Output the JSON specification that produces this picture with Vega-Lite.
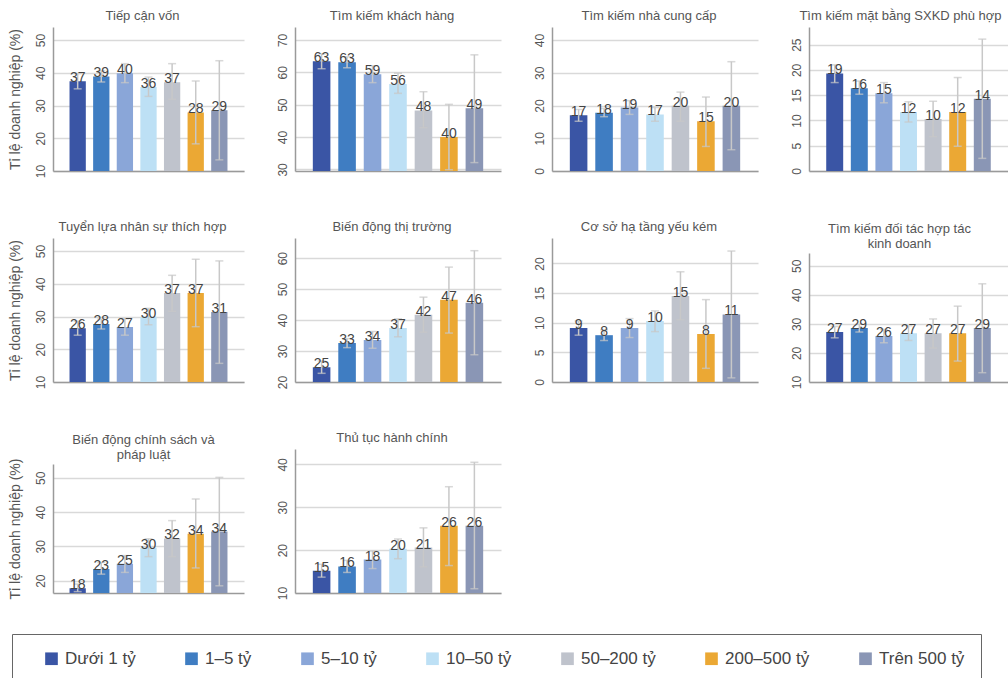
{
  "$schema": "https://vega.github.io/schema/vega-lite/v6.json",
  "background": "white",
  "padding": {"left": 7, "top": 10, "right": 0, "bottom": 0},
  "config": {
    "font": "Liberation Sans",
    "view": {"stroke": null},
    "title": {"fontSize": 13, "fontWeight": "normal", "color": "#555555", "offset": 4, "lineHeight": 15, "frame": "group", "anchor": "middle", "dx": -6},
    "axis": {"labelColor": "#555555", "labelFontSize": 12, "gridColor": "#d9d9d9", "gridWidth": 1.5, "domainColor": "#9a9a9a", "domainWidth": 1.5, "ticks": false, "labelOverlap": false},
    "axisY": {"labelAngle": -90, "labelPadding": 6, "titleFontSize": 14, "titleColor": "#555555", "titleFontWeight": "normal", "titlePadding": 12, "labelOverlap": false},
    "axisQuantitative": {"labelOverlap": false},
    "axisX": {"labels": false, "title": null, "grid": false}
  },
  "datasets": {
    "d": [
      {"p":1,"g":"Dưới 1 tỷ","v":37.4,"lo":35.1,"hi":39.8},
      {"p":1,"g":"1–5 tỷ","v":38.9,"lo":37.2,"hi":40.6},
      {"p":1,"g":"5–10 tỷ","v":39.9,"lo":37.0,"hi":42.8},
      {"p":1,"g":"10–50 tỷ","v":35.7,"lo":32.8,"hi":38.7},
      {"p":1,"g":"50–200 tỷ","v":37.1,"lo":31.9,"hi":42.8},
      {"p":1,"g":"200–500 tỷ","v":27.9,"lo":18.3,"hi":37.5},
      {"p":1,"g":"Trên 500 tỷ","v":28.6,"lo":13.4,"hi":43.7},
      {"p":2,"g":"Dưới 1 tỷ","v":63.4,"lo":61.1,"hi":65.7},
      {"p":2,"g":"1–5 tỷ","v":63.1,"lo":61.4,"hi":64.8},
      {"p":2,"g":"5–10 tỷ","v":59.4,"lo":56.8,"hi":62.0},
      {"p":2,"g":"10–50 tỷ","v":56.4,"lo":53.5,"hi":59.7},
      {"p":2,"g":"50–200 tỷ","v":48.2,"lo":42.9,"hi":54.0},
      {"p":2,"g":"200–500 tỷ","v":40.0,"lo":29.9,"hi":50.1},
      {"p":2,"g":"Trên 500 tỷ","v":48.9,"lo":32.1,"hi":65.4},
      {"p":3,"g":"Dưới 1 tỷ","v":17.0,"lo":15.2,"hi":18.8},
      {"p":3,"g":"1–5 tỷ","v":17.8,"lo":16.6,"hi":19.1},
      {"p":3,"g":"5–10 tỷ","v":19.4,"lo":17.3,"hi":21.5},
      {"p":3,"g":"10–50 tỷ","v":17.3,"lo":15.2,"hi":19.4},
      {"p":3,"g":"50–200 tỷ","v":19.9,"lo":15.2,"hi":24.1},
      {"p":3,"g":"200–500 tỷ","v":15.2,"lo":7.5,"hi":22.6},
      {"p":3,"g":"Trên 500 tỷ","v":19.9,"lo":6.5,"hi":33.4},
      {"p":4,"g":"Dưới 1 tỷ","v":19.3,"lo":17.5,"hi":21.0},
      {"p":4,"g":"1–5 tỷ","v":16.4,"lo":15.2,"hi":17.8},
      {"p":4,"g":"5–10 tỷ","v":15.4,"lo":13.5,"hi":17.5},
      {"p":4,"g":"10–50 tỷ","v":11.7,"lo":9.7,"hi":13.7},
      {"p":4,"g":"50–200 tỷ","v":10.3,"lo":6.8,"hi":13.8},
      {"p":4,"g":"200–500 tỷ","v":11.7,"lo":4.9,"hi":18.5},
      {"p":4,"g":"Trên 500 tỷ","v":14.3,"lo":2.5,"hi":26.1},
      {"p":5,"g":"Dưới 1 tỷ","v":26.4,"lo":24.3,"hi":28.6},
      {"p":5,"g":"1–5 tỷ","v":27.7,"lo":26.2,"hi":29.2},
      {"p":5,"g":"5–10 tỷ","v":26.8,"lo":24.3,"hi":29.3},
      {"p":5,"g":"10–50 tỷ","v":29.9,"lo":27.5,"hi":32.5},
      {"p":5,"g":"50–200 tỷ","v":37.2,"lo":31.6,"hi":42.6},
      {"p":5,"g":"200–500 tỷ","v":37.2,"lo":26.9,"hi":47.5},
      {"p":5,"g":"Trên 500 tỷ","v":31.4,"lo":15.7,"hi":47.0},
      {"p":6,"g":"Dưới 1 tỷ","v":24.8,"lo":22.8,"hi":26.8},
      {"p":6,"g":"1–5 tỷ","v":32.6,"lo":31.1,"hi":34.0},
      {"p":6,"g":"5–10 tỷ","v":33.6,"lo":30.9,"hi":36.3},
      {"p":6,"g":"10–50 tỷ","v":37.4,"lo":34.6,"hi":40.4},
      {"p":6,"g":"50–200 tỷ","v":41.7,"lo":36.1,"hi":47.4},
      {"p":6,"g":"200–500 tỷ","v":46.6,"lo":35.8,"hi":57.1},
      {"p":6,"g":"Trên 500 tỷ","v":45.6,"lo":28.8,"hi":62.4},
      {"p":7,"g":"Dưới 1 tỷ","v":9.1,"lo":7.9,"hi":10.3},
      {"p":7,"g":"1–5 tỷ","v":7.9,"lo":7.0,"hi":8.8},
      {"p":7,"g":"5–10 tỷ","v":9.1,"lo":7.5,"hi":10.7},
      {"p":7,"g":"10–50 tỷ","v":10.3,"lo":8.5,"hi":12.0},
      {"p":7,"g":"50–200 tỷ","v":14.5,"lo":10.5,"hi":18.6},
      {"p":7,"g":"200–500 tỷ","v":8.1,"lo":2.3,"hi":13.9},
      {"p":7,"g":"Trên 500 tỷ","v":11.4,"lo":0.7,"hi":22.1},
      {"p":8,"g":"Dưới 1 tỷ","v":27.2,"lo":25.2,"hi":29.1},
      {"p":8,"g":"1–5 tỷ","v":28.6,"lo":27.2,"hi":29.9},
      {"p":8,"g":"5–10 tỷ","v":25.8,"lo":23.5,"hi":28.1},
      {"p":8,"g":"10–50 tỷ","v":26.8,"lo":24.3,"hi":29.4},
      {"p":8,"g":"50–200 tỷ","v":26.8,"lo":21.7,"hi":31.7},
      {"p":8,"g":"200–500 tỷ","v":26.8,"lo":17.2,"hi":36.1},
      {"p":8,"g":"Trên 500 tỷ","v":28.6,"lo":13.2,"hi":43.8},
      {"p":9,"g":"Dưới 1 tỷ","v":17.8,"lo":16.8,"hi":19.0},
      {"p":9,"g":"1–5 tỷ","v":23.4,"lo":21.9,"hi":25.3},
      {"p":9,"g":"5–10 tỷ","v":24.9,"lo":22.4,"hi":27.3},
      {"p":9,"g":"10–50 tỷ","v":29.6,"lo":27.0,"hi":32.2},
      {"p":9,"g":"50–200 tỷ","v":32.3,"lo":27.0,"hi":37.5},
      {"p":9,"g":"200–500 tỷ","v":33.7,"lo":23.7,"hi":43.8},
      {"p":9,"g":"Trên 500 tỷ","v":34.3,"lo":18.5,"hi":50.1},
      {"p":10,"g":"Dưới 1 tỷ","v":15.2,"lo":13.7,"hi":16.7},
      {"p":10,"g":"1–5 tỷ","v":16.2,"lo":14.8,"hi":17.6},
      {"p":10,"g":"5–10 tỷ","v":17.8,"lo":15.7,"hi":19.8},
      {"p":10,"g":"10–50 tỷ","v":20.3,"lo":18.0,"hi":22.6},
      {"p":10,"g":"50–200 tỷ","v":20.6,"lo":16.1,"hi":25.2},
      {"p":10,"g":"200–500 tỷ","v":25.7,"lo":16.4,"hi":34.8},
      {"p":10,"g":"Trên 500 tỷ","v":25.7,"lo":11.0,"hi":40.5}
    ]
  },
  "columns": 4,
  "align": "each",
  "spacing": {"row": 43, "column": 32},
  "resolve": {"scale": {"y": "independent", "x": "independent"}},
  "concat": [
    {
      "width": 191, "height": 144, "title": "Tiếp cận vốn",
      "data": {"name": "d"}, "transform": [{"filter": "datum.p == 1"}],
      "encoding": {"x": {"field": "g", "type": "nominal", "sort": ["Dưới 1 tỷ","1–5 tỷ","5–10 tỷ","10–50 tỷ","50–200 tỷ","200–500 tỷ","Trên 500 tỷ"], "scale": {"paddingInner": 0.31, "paddingOuter": 0.7}, "axis": {"labels": false, "ticks": false, "title": null}}},
      "layer": [
        {"mark": {"type": "bar", "clip": true}, "encoding": {
          "y": {"field": "v", "type": "quantitative", "title": "Tỉ lệ doanh nghiệp (%)", "scale": {"domain": [10, 54], "nice": false, "zero": false}, "axis": {"values": [10,20,30,40,50], "labelOverlap": false}},
          "color": {"field": "g", "type": "nominal", "scale": {"domain": ["Dưới 1 tỷ","1–5 tỷ","5–10 tỷ","10–50 tỷ","50–200 tỷ","200–500 tỷ","Trên 500 tỷ"], "range": ["#3a55a5","#3f7dc2","#8aa6d8","#bde0f5","#bfc3cc","#eba834","#8a96b5"]},
            "legend": {"orient": "none", "legendX": -41, "legendY": 607, "direction": "horizontal", "title": null, "symbolType": "square", "symbolSize": 160, "symbolStrokeWidth": 0, "labelFontSize": 17, "labelColor": "#444444", "labelOffset": 5, "columnPadding": 32, "padding": 16, "symbolOffset": 15, "strokeColor": "#666666"}}}},
        {"mark": {"type": "rule", "color": "#c8c8c8", "strokeWidth": 1.5}, "encoding": {"y": {"field": "lo", "type": "quantitative", "title": "Tỉ lệ doanh nghiệp (%)", "axis": {"values": [10,20,30,40,50], "labelOverlap": false}}, "y2": {"field": "hi"}}},
        {"mark": {"type": "tick", "color": "#c8c8c8", "size": 8, "thickness": 1.5}, "encoding": {"y": {"field": "lo", "type": "quantitative", "title": "Tỉ lệ doanh nghiệp (%)", "axis": {"values": [10,20,30,40,50], "labelOverlap": false}}}},
        {"mark": {"type": "tick", "color": "#c8c8c8", "size": 8, "thickness": 1.5}, "encoding": {"y": {"field": "hi", "type": "quantitative", "title": "Tỉ lệ doanh nghiệp (%)", "axis": {"values": [10,20,30,40,50], "labelOverlap": false}}}},
        {"mark": {"type": "text", "baseline": "alphabetic", "dy": 1, "fontSize": 14, "color": "#444444"}, "encoding": {"y": {"field": "v", "type": "quantitative", "title": "Tỉ lệ doanh nghiệp (%)", "axis": {"values": [10,20,30,40,50], "labelOverlap": false}}, "text": {"field": "v", "type": "quantitative", "format": ".0f"}}}
      ]
    },
    {
      "width": 206, "height": 144, "title": "Tìm kiếm khách hàng",
      "data": {"name": "d"}, "transform": [{"filter": "datum.p == 2"}],
      "encoding": {"x": {"field": "g", "type": "nominal", "sort": ["Dưới 1 tỷ","1–5 tỷ","5–10 tỷ","10–50 tỷ","50–200 tỷ","200–500 tỷ","Trên 500 tỷ"], "scale": {"paddingInner": 0.31, "paddingOuter": 0.7}, "axis": {"labels": false, "ticks": false, "title": null}}},
      "layer": [
        {"mark": {"type": "bar", "clip": true}, "encoding": {
          "y": {"field": "v", "type": "quantitative", "title": null, "scale": {"domain": [29.5, 74], "nice": false, "zero": false}, "axis": {"values": [30,40,50,60,70], "labelOverlap": false}},
          "color": {"field": "g", "type": "nominal"}}},
        {"mark": {"type": "rule", "color": "#c8c8c8", "strokeWidth": 1.5}, "encoding": {"y": {"field": "lo", "type": "quantitative", "title": null, "axis": {"values": [30,40,50,60,70], "labelOverlap": false}}, "y2": {"field": "hi"}}},
        {"mark": {"type": "tick", "color": "#c8c8c8", "size": 8, "thickness": 1.5}, "encoding": {"y": {"field": "lo", "type": "quantitative", "title": null, "axis": {"values": [30,40,50,60,70], "labelOverlap": false}}}},
        {"mark": {"type": "tick", "color": "#c8c8c8", "size": 8, "thickness": 1.5}, "encoding": {"y": {"field": "hi", "type": "quantitative", "title": null, "axis": {"values": [30,40,50,60,70], "labelOverlap": false}}}},
        {"mark": {"type": "text", "baseline": "alphabetic", "dy": 1, "fontSize": 14, "color": "#444444"}, "encoding": {"y": {"field": "v", "type": "quantitative", "title": null, "axis": {"values": [30,40,50,60,70], "labelOverlap": false}}, "text": {"field": "v", "type": "quantitative", "format": ".0f"}}}
      ]
    },
    {
      "width": 206, "height": 144, "title": "Tìm kiếm nhà cung cấp",
      "data": {"name": "d"}, "transform": [{"filter": "datum.p == 3"}],
      "encoding": {"x": {"field": "g", "type": "nominal", "sort": ["Dưới 1 tỷ","1–5 tỷ","5–10 tỷ","10–50 tỷ","50–200 tỷ","200–500 tỷ","Trên 500 tỷ"], "scale": {"paddingInner": 0.31, "paddingOuter": 0.7}, "axis": {"labels": false, "ticks": false, "title": null}}},
      "layer": [
        {"mark": {"type": "bar", "clip": true}, "encoding": {
          "y": {"field": "v", "type": "quantitative", "title": null, "scale": {"domain": [0, 44], "nice": false, "zero": false}, "axis": {"values": [0,10,20,30,40], "labelOverlap": false}},
          "color": {"field": "g", "type": "nominal"}}},
        {"mark": {"type": "rule", "color": "#c8c8c8", "strokeWidth": 1.5}, "encoding": {"y": {"field": "lo", "type": "quantitative", "title": null, "axis": {"values": [0,10,20,30,40], "labelOverlap": false}}, "y2": {"field": "hi"}}},
        {"mark": {"type": "tick", "color": "#c8c8c8", "size": 8, "thickness": 1.5}, "encoding": {"y": {"field": "lo", "type": "quantitative", "title": null, "axis": {"values": [0,10,20,30,40], "labelOverlap": false}}}},
        {"mark": {"type": "tick", "color": "#c8c8c8", "size": 8, "thickness": 1.5}, "encoding": {"y": {"field": "hi", "type": "quantitative", "title": null, "axis": {"values": [0,10,20,30,40], "labelOverlap": false}}}},
        {"mark": {"type": "text", "baseline": "alphabetic", "dy": 1, "fontSize": 14, "color": "#444444"}, "encoding": {"y": {"field": "v", "type": "quantitative", "title": null, "axis": {"values": [0,10,20,30,40], "labelOverlap": false}}, "text": {"field": "v", "type": "quantitative", "format": ".0f"}}}
      ]
    },
    {
      "width": 199, "height": 144, "title": {"text": "Tìm kiếm mặt bằng SXKD phù hợp", "dx": -8},
      "data": {"name": "d"}, "transform": [{"filter": "datum.p == 4"}],
      "encoding": {"x": {"field": "g", "type": "nominal", "sort": ["Dưới 1 tỷ","1–5 tỷ","5–10 tỷ","10–50 tỷ","50–200 tỷ","200–500 tỷ","Trên 500 tỷ"], "scale": {"paddingInner": 0.31, "paddingOuter": 0.7}, "axis": {"labels": false, "ticks": false, "title": null}}},
      "layer": [
        {"mark": {"type": "bar", "clip": true}, "encoding": {
          "y": {"field": "v", "type": "quantitative", "title": null, "scale": {"domain": [0, 28.5], "nice": false, "zero": false}, "axis": {"values": [0,5,10,15,20,25], "labelOverlap": false}},
          "color": {"field": "g", "type": "nominal"}}},
        {"mark": {"type": "rule", "color": "#c8c8c8", "strokeWidth": 1.5}, "encoding": {"y": {"field": "lo", "type": "quantitative", "title": null, "axis": {"values": [0,5,10,15,20,25], "labelOverlap": false}}, "y2": {"field": "hi"}}},
        {"mark": {"type": "tick", "color": "#c8c8c8", "size": 8, "thickness": 1.5}, "encoding": {"y": {"field": "lo", "type": "quantitative", "title": null, "axis": {"values": [0,5,10,15,20,25], "labelOverlap": false}}}},
        {"mark": {"type": "tick", "color": "#c8c8c8", "size": 8, "thickness": 1.5}, "encoding": {"y": {"field": "hi", "type": "quantitative", "title": null, "axis": {"values": [0,5,10,15,20,25], "labelOverlap": false}}}},
        {"mark": {"type": "text", "baseline": "alphabetic", "dy": 1, "fontSize": 14, "color": "#444444"}, "encoding": {"y": {"field": "v", "type": "quantitative", "title": null, "axis": {"values": [0,5,10,15,20,25], "labelOverlap": false}}, "text": {"field": "v", "type": "quantitative", "format": ".0f"}}}
      ]
    },
    {
      "width": 191, "height": 144, "title": "Tuyển lựa nhân sự thích hợp",
      "data": {"name": "d"}, "transform": [{"filter": "datum.p == 5"}],
      "encoding": {"x": {"field": "g", "type": "nominal", "sort": ["Dưới 1 tỷ","1–5 tỷ","5–10 tỷ","10–50 tỷ","50–200 tỷ","200–500 tỷ","Trên 500 tỷ"], "scale": {"paddingInner": 0.31, "paddingOuter": 0.7}, "axis": {"labels": false, "ticks": false, "title": null}}},
      "layer": [
        {"mark": {"type": "bar", "clip": true}, "encoding": {
          "y": {"field": "v", "type": "quantitative", "title": "Tỉ lệ doanh nghiệp (%)", "scale": {"domain": [10, 54], "nice": false, "zero": false}, "axis": {"values": [10,20,30,40,50], "labelOverlap": false}},
          "color": {"field": "g", "type": "nominal"}}},
        {"mark": {"type": "rule", "color": "#c8c8c8", "strokeWidth": 1.5}, "encoding": {"y": {"field": "lo", "type": "quantitative", "title": "Tỉ lệ doanh nghiệp (%)", "axis": {"values": [10,20,30,40,50], "labelOverlap": false}}, "y2": {"field": "hi"}}},
        {"mark": {"type": "tick", "color": "#c8c8c8", "size": 8, "thickness": 1.5}, "encoding": {"y": {"field": "lo", "type": "quantitative", "title": "Tỉ lệ doanh nghiệp (%)", "axis": {"values": [10,20,30,40,50], "labelOverlap": false}}}},
        {"mark": {"type": "tick", "color": "#c8c8c8", "size": 8, "thickness": 1.5}, "encoding": {"y": {"field": "hi", "type": "quantitative", "title": "Tỉ lệ doanh nghiệp (%)", "axis": {"values": [10,20,30,40,50], "labelOverlap": false}}}},
        {"mark": {"type": "text", "baseline": "alphabetic", "dy": 1, "fontSize": 14, "color": "#444444"}, "encoding": {"y": {"field": "v", "type": "quantitative", "title": "Tỉ lệ doanh nghiệp (%)", "axis": {"values": [10,20,30,40,50], "labelOverlap": false}}, "text": {"field": "v", "type": "quantitative", "format": ".0f"}}}
      ]
    },
    {
      "width": 206, "height": 144, "title": "Biến động thị trường",
      "data": {"name": "d"}, "transform": [{"filter": "datum.p == 6"}],
      "encoding": {"x": {"field": "g", "type": "nominal", "sort": ["Dưới 1 tỷ","1–5 tỷ","5–10 tỷ","10–50 tỷ","50–200 tỷ","200–500 tỷ","Trên 500 tỷ"], "scale": {"paddingInner": 0.31, "paddingOuter": 0.7}, "axis": {"labels": false, "ticks": false, "title": null}}},
      "layer": [
        {"mark": {"type": "bar", "clip": true}, "encoding": {
          "y": {"field": "v", "type": "quantitative", "title": null, "scale": {"domain": [20, 66.5], "nice": false, "zero": false}, "axis": {"values": [20,30,40,50,60], "labelOverlap": false}},
          "color": {"field": "g", "type": "nominal"}}},
        {"mark": {"type": "rule", "color": "#c8c8c8", "strokeWidth": 1.5}, "encoding": {"y": {"field": "lo", "type": "quantitative", "title": null, "axis": {"values": [20,30,40,50,60], "labelOverlap": false}}, "y2": {"field": "hi"}}},
        {"mark": {"type": "tick", "color": "#c8c8c8", "size": 8, "thickness": 1.5}, "encoding": {"y": {"field": "lo", "type": "quantitative", "title": null, "axis": {"values": [20,30,40,50,60], "labelOverlap": false}}}},
        {"mark": {"type": "tick", "color": "#c8c8c8", "size": 8, "thickness": 1.5}, "encoding": {"y": {"field": "hi", "type": "quantitative", "title": null, "axis": {"values": [20,30,40,50,60], "labelOverlap": false}}}},
        {"mark": {"type": "text", "baseline": "alphabetic", "dy": 1, "fontSize": 14, "color": "#444444"}, "encoding": {"y": {"field": "v", "type": "quantitative", "title": null, "axis": {"values": [20,30,40,50,60], "labelOverlap": false}}, "text": {"field": "v", "type": "quantitative", "format": ".0f"}}}
      ]
    },
    {
      "width": 206, "height": 144, "title": "Cơ sở hạ tầng yếu kém",
      "data": {"name": "d"}, "transform": [{"filter": "datum.p == 7"}],
      "encoding": {"x": {"field": "g", "type": "nominal", "sort": ["Dưới 1 tỷ","1–5 tỷ","5–10 tỷ","10–50 tỷ","50–200 tỷ","200–500 tỷ","Trên 500 tỷ"], "scale": {"paddingInner": 0.31, "paddingOuter": 0.7}, "axis": {"labels": false, "ticks": false, "title": null}}},
      "layer": [
        {"mark": {"type": "bar", "clip": true}, "encoding": {
          "y": {"field": "v", "type": "quantitative", "title": null, "scale": {"domain": [0, 24.3], "nice": false, "zero": false}, "axis": {"values": [0,5,10,15,20], "labelOverlap": false}},
          "color": {"field": "g", "type": "nominal"}}},
        {"mark": {"type": "rule", "color": "#c8c8c8", "strokeWidth": 1.5}, "encoding": {"y": {"field": "lo", "type": "quantitative", "title": null, "axis": {"values": [0,5,10,15,20], "labelOverlap": false}}, "y2": {"field": "hi"}}},
        {"mark": {"type": "tick", "color": "#c8c8c8", "size": 8, "thickness": 1.5}, "encoding": {"y": {"field": "lo", "type": "quantitative", "title": null, "axis": {"values": [0,5,10,15,20], "labelOverlap": false}}}},
        {"mark": {"type": "tick", "color": "#c8c8c8", "size": 8, "thickness": 1.5}, "encoding": {"y": {"field": "hi", "type": "quantitative", "title": null, "axis": {"values": [0,5,10,15,20], "labelOverlap": false}}}},
        {"mark": {"type": "text", "baseline": "alphabetic", "dy": 1, "fontSize": 14, "color": "#444444"}, "encoding": {"y": {"field": "v", "type": "quantitative", "title": null, "axis": {"values": [0,5,10,15,20], "labelOverlap": false}}, "text": {"field": "v", "type": "quantitative", "format": ".0f"}}}
      ]
    },
    {
      "width": 199, "height": 144, "title": {"text": ["Tìm kiếm đối tác hợp tác", "kinh doanh"], "offset": -13, "dx": -9},
      "data": {"name": "d"}, "transform": [{"filter": "datum.p == 8"}],
      "encoding": {"x": {"field": "g", "type": "nominal", "sort": ["Dưới 1 tỷ","1–5 tỷ","5–10 tỷ","10–50 tỷ","50–200 tỷ","200–500 tỷ","Trên 500 tỷ"], "scale": {"paddingInner": 0.31, "paddingOuter": 0.7}, "axis": {"labels": false, "ticks": false, "title": null}}},
      "layer": [
        {"mark": {"type": "bar", "clip": true}, "encoding": {
          "y": {"field": "v", "type": "quantitative", "title": null, "scale": {"domain": [10, 54.4], "range": [144, 15], "nice": false, "zero": false}, "axis": {"values": [10,20,30,40,50], "labelOverlap": false}},
          "color": {"field": "g", "type": "nominal"}}},
        {"mark": {"type": "rule", "color": "#c8c8c8", "strokeWidth": 1.5}, "encoding": {"y": {"field": "lo", "type": "quantitative", "title": null, "axis": {"values": [10,20,30,40,50], "labelOverlap": false}}, "y2": {"field": "hi"}}},
        {"mark": {"type": "tick", "color": "#c8c8c8", "size": 8, "thickness": 1.5}, "encoding": {"y": {"field": "lo", "type": "quantitative", "title": null, "axis": {"values": [10,20,30,40,50], "labelOverlap": false}}}},
        {"mark": {"type": "tick", "color": "#c8c8c8", "size": 8, "thickness": 1.5}, "encoding": {"y": {"field": "hi", "type": "quantitative", "title": null, "axis": {"values": [10,20,30,40,50], "labelOverlap": false}}}},
        {"mark": {"type": "text", "baseline": "alphabetic", "dy": 1, "fontSize": 14, "color": "#444444"}, "encoding": {"y": {"field": "v", "type": "quantitative", "title": null, "axis": {"values": [10,20,30,40,50], "labelOverlap": false}}, "text": {"field": "v", "type": "quantitative", "format": ".0f"}}}
      ]
    },
    {
      "width": 191, "height": 144, "title": {"text": ["Biến động chính sách và", "pháp luật"], "offset": -13, "dx": -5},
      "data": {"name": "d"}, "transform": [{"filter": "datum.p == 9"}],
      "encoding": {"x": {"field": "g", "type": "nominal", "sort": ["Dưới 1 tỷ","1–5 tỷ","5–10 tỷ","10–50 tỷ","50–200 tỷ","200–500 tỷ","Trên 500 tỷ"], "scale": {"paddingInner": 0.31, "paddingOuter": 0.7}, "axis": {"labels": false, "ticks": false, "title": null}}},
      "layer": [
        {"mark": {"type": "bar", "clip": true}, "encoding": {
          "y": {"field": "v", "type": "quantitative", "title": "Tỉ lệ doanh nghiệp (%)", "scale": {"domain": [16.4, 54], "range": [144, 15], "nice": false, "zero": false}, "axis": {"values": [20,30,40,50], "labelOverlap": false}},
          "color": {"field": "g", "type": "nominal"}}},
        {"mark": {"type": "rule", "color": "#c8c8c8", "strokeWidth": 1.5}, "encoding": {"y": {"field": "lo", "type": "quantitative", "title": "Tỉ lệ doanh nghiệp (%)", "axis": {"values": [20,30,40,50], "labelOverlap": false}}, "y2": {"field": "hi"}}},
        {"mark": {"type": "tick", "color": "#c8c8c8", "size": 8, "thickness": 1.5}, "encoding": {"y": {"field": "lo", "type": "quantitative", "title": "Tỉ lệ doanh nghiệp (%)", "axis": {"values": [20,30,40,50], "labelOverlap": false}}}},
        {"mark": {"type": "tick", "color": "#c8c8c8", "size": 8, "thickness": 1.5}, "encoding": {"y": {"field": "hi", "type": "quantitative", "title": "Tỉ lệ doanh nghiệp (%)", "axis": {"values": [20,30,40,50], "labelOverlap": false}}}},
        {"mark": {"type": "text", "baseline": "alphabetic", "dy": 1, "fontSize": 14, "color": "#444444"}, "encoding": {"y": {"field": "v", "type": "quantitative", "title": "Tỉ lệ doanh nghiệp (%)", "axis": {"values": [20,30,40,50], "labelOverlap": false}}, "text": {"field": "v", "type": "quantitative", "format": ".0f"}}}
      ]
    },
    {
      "width": 206, "height": 144, "title": "Thủ tục hành chính",
      "data": {"name": "d"}, "transform": [{"filter": "datum.p == 10"}],
      "encoding": {"x": {"field": "g", "type": "nominal", "sort": ["Dưới 1 tỷ","1–5 tỷ","5–10 tỷ","10–50 tỷ","50–200 tỷ","200–500 tỷ","Trên 500 tỷ"], "scale": {"paddingInner": 0.31, "paddingOuter": 0.7}, "axis": {"labels": false, "ticks": false, "title": null}}},
      "layer": [
        {"mark": {"type": "bar", "clip": true}, "encoding": {
          "y": {"field": "v", "type": "quantitative", "title": null, "scale": {"domain": [10, 43.6], "nice": false, "zero": false}, "axis": {"values": [10,20,30,40], "labelOverlap": false}},
          "color": {"field": "g", "type": "nominal"}}},
        {"mark": {"type": "rule", "color": "#c8c8c8", "strokeWidth": 1.5}, "encoding": {"y": {"field": "lo", "type": "quantitative", "title": null, "axis": {"values": [10,20,30,40], "labelOverlap": false}}, "y2": {"field": "hi"}}},
        {"mark": {"type": "tick", "color": "#c8c8c8", "size": 8, "thickness": 1.5}, "encoding": {"y": {"field": "lo", "type": "quantitative", "title": null, "axis": {"values": [10,20,30,40], "labelOverlap": false}}}},
        {"mark": {"type": "tick", "color": "#c8c8c8", "size": 8, "thickness": 1.5}, "encoding": {"y": {"field": "hi", "type": "quantitative", "title": null, "axis": {"values": [10,20,30,40], "labelOverlap": false}}}},
        {"mark": {"type": "text", "baseline": "alphabetic", "dy": 1, "fontSize": 14, "color": "#444444"}, "encoding": {"y": {"field": "v", "type": "quantitative", "title": null, "axis": {"values": [10,20,30,40], "labelOverlap": false}}, "text": {"field": "v", "type": "quantitative", "format": ".0f"}}}
      ]
    }
  ]
}
